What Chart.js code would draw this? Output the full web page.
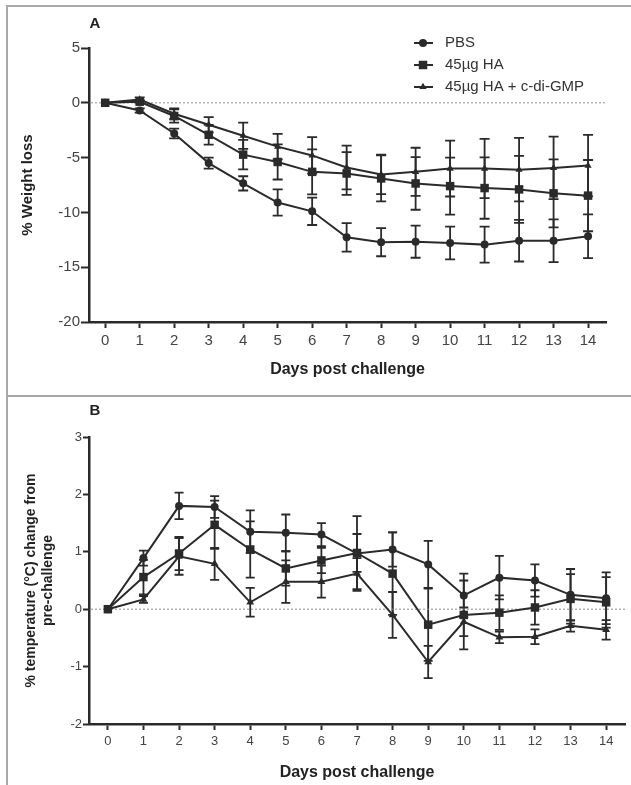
<!DOCTYPE html>
<html>
<head>
<meta charset="utf-8">
<script src="https://cdn.jsdelivr.net/npm/chart.js@4.4.1/dist/chart.umd.min.js"></script>
<style>
  body { margin: 0; background: #fff; width: 631px; height: 785px; overflow: hidden; position: relative; }
  #boxA { position: absolute; left: 6px; top: 5px; width: 700px; height: 388px; border: 2px solid #a8a8a8; border-right: none; }
  #boxB { position: absolute; left: 6px; top: 395px; width: 700px; height: 400px; border-left: 2px solid #a8a8a8; }
  canvas { position: absolute; left: 0; }
  #chartA { top: 0; }
  #chartB { top: 396px; }
</style>
</head>
<body>
<div id="boxA"></div>
<div id="boxB"></div>
<canvas id="chartA" width="631" height="396"></canvas>
<canvas id="chartB" width="631" height="389"></canvas>
<script>
// days post challenge
var days = [0, 1, 2, 3, 4, 5, 6, 7, 8, 9, 10, 11, 12, 13, 14];
var seriesNames = ["PBS", "45µg HA", "45µg HA + c-di-GMP"];

// panel A: % weight loss (mean, SEM)
var weightPBS = [0, -0.7, -2.8, -5.5, -7.35, -9.1, -9.9, -12.27, -12.72, -12.67, -12.79, -12.94, -12.58, -12.58, -12.18];
var weightPBSsem = [0, 0.2, 0.45, 0.5, 0.65, 1.2, 1.25, 1.3, 1.28, 1.47, 1.5, 1.65, 1.9, 1.95, 2.0];
var weightHA = [0, 0.1, -1.2, -2.92, -4.73, -5.4, -6.3, -6.45, -6.9, -7.36, -7.6, -7.78, -7.9, -8.26, -8.47];
var weightHAsem = [0, 0.15, 0.6, 0.9, 1.35, 1.6, 2.05, 1.95, 2.1, 2.4, 2.6, 2.8, 3.05, 3.1, 3.25];
var weightCdG = [0, 0.3, -1.0, -2.0, -3.0, -4.0, -4.8, -5.9, -6.54, -6.3, -6.0, -6.0, -6.1, -5.94, -5.73];
var weightCdGsem = [0, 0.2, 0.5, 0.7, 1.2, 1.17, 1.67, 2.0, 1.8, 2.2, 2.55, 2.7, 2.9, 2.85, 2.8];
var yTicksA = [-20, -15, -10, -5, 0, 5];

// panel B: % temperature change (mean, SEM)
var tempPBS = [0, 0.89, 1.80, 1.78, 1.35, 1.33, 1.30, 0.97, 1.04, 0.78, 0.24, 0.55, 0.50, 0.25, 0.19];
var tempPBSsem = [0, 0.13, 0.23, 0.19, 0.37, 0.32, 0.2, 0.65, 0.3, 0.41, 0.38, 0.38, 0.28, 0.45, 0.45];
var tempHA = [0, 0.56, 0.97, 1.47, 1.04, 0.71, 0.85, 0.98, 0.62, -0.27, -0.10, -0.06, 0.03, 0.18, 0.12];
var tempHAsem = [0, 0.3, 0.29, 0.42, 0.49, 0.3, 0.22, 0.33, 0.72, 0.63, 0.6, 0.3, 0.3, 0.43, 0.44];
var tempCdG = [0, 0.17, 0.92, 0.79, 0.12, 0.48, 0.48, 0.62, -0.10, -0.92, -0.22, -0.49, -0.48, -0.29, -0.36];
var tempCdGsem = [0, 0.06, 0.32, 0.28, 0.25, 0.37, 0.28, 0.27, 0.4, 0.28, 0.25, 0.1, 0.13, 0.1, 0.17];
var yTicksB = [-2, -1, 0, 1, 2, 3];

var ink = "#2a2a2a";
var FONT = "'Liberation Sans', Arial, sans-serif";

function pts(values) {
  return values.map(function (v, i) { return { x: days[i], y: v }; });
}

function dataset(name, values, sem, style, radius) {
  return {
    label: name,
    data: pts(values),
    sem: sem,
    borderColor: ink,
    backgroundColor: ink,
    borderWidth: 2,
    pointStyle: style,
    pointRadius: radius,
    pointBorderWidth: 0,
    pointBackgroundColor: ink,
    tension: 0
  };
}

// error bars drawn through the scales
var errorBars = {
  id: "errorBars",
  beforeDatasetsDraw: function (chart, args, opts) {
    var ctx = chart.ctx, xs = chart.scales.x, ys = chart.scales.y;
    ctx.save();
    ctx.strokeStyle = ink;
    ctx.lineWidth = 1.8;
    chart.data.datasets.forEach(function (ds) {
      ds.data.forEach(function (p, i) {
        var s = ds.sem[i];
        if (!s) return;
        var px = xs.getPixelForValue(p.x);
        var top = ys.getPixelForValue(p.y + s);
        var bot = ys.getPixelForValue(p.y - s);
        ctx.beginPath();
        ctx.moveTo(px, top); ctx.lineTo(px, bot);
        ctx.moveTo(px - opts.cap, top); ctx.lineTo(px + opts.cap, top);
        ctx.moveTo(px - opts.cap, bot); ctx.lineTo(px + opts.cap, bot);
        ctx.stroke();
      });
    });
    ctx.restore();
  }
};

// dotted baseline at 0 and panel letter
var extras = {
  id: "extras",
  beforeDatasetsDraw: function (chart, args, opts) {
    var ctx = chart.ctx, ys = chart.scales.y, area = chart.chartArea;
    var y0 = ys.getPixelForValue(0);
    ctx.save();
    ctx.strokeStyle = opts.zeroColor;
    ctx.lineWidth = opts.zeroWidth;
    ctx.setLineDash([2, 2]);
    ctx.beginPath();
    ctx.moveTo(area.left + 2, y0);
    ctx.lineTo(area.right, y0);
    ctx.stroke();
    ctx.restore();
  },
  afterDraw: function (chart, args, opts) {
    var ctx = chart.ctx;
    ctx.save();
    ctx.fillStyle = "#222";
    ctx.font = "bold 15px " + FONT;
    ctx.textAlign = "center";
    ctx.textBaseline = "middle";
    ctx.fillText(opts.letter, opts.letterX, opts.letterY);
    if (opts.legend) {
      var L = opts.legend;
      chart.data.datasets.forEach(function (ds, i) {
        var y = L.y + i * L.row;
        ctx.strokeStyle = ink;
        ctx.lineWidth = 2;
        ctx.beginPath();
        ctx.moveTo(L.x - 9, y); ctx.lineTo(L.x + 10, y);
        ctx.stroke();
        ctx.fillStyle = ink;
        Chart.helpers.drawPoint(ctx, { pointStyle: ds.pointStyle, radius: ds.pointRadius, borderWidth: 0, rotation: 0 }, L.x, y);
        ctx.fillStyle = "#333";
        ctx.font = "15px " + FONT;
        ctx.textAlign = "left";
        ctx.fillText(ds.label, L.textX, y);
      });
    }
    ctx.restore();
  }
};

function axisCfg(o) {
  return {
    x: {
      type: "linear",
      min: o.xmin, max: o.xmax,
      afterBuildTicks: function (s) { s.ticks = days.map(function (d) { return { value: d }; }); },
      afterFit: function (s) { s.height = o.xHeight; },
      border: { display: true, color: ink, width: 2.5 },
      grid: { drawOnChartArea: false, drawTicks: true, tickLength: 6, tickWidth: 2, tickColor: ink, color: ink },
      ticks: { color: "#444", font: { family: FONT, size: o.tickSize }, padding: o.xPad, maxRotation: 0, autoSkip: false },
      title: { display: true, text: "Days post challenge", color: "#222", font: { family: FONT, size: 16, weight: "bold" }, padding: { top: 0, bottom: o.xTitlePad } }
    },
    y: {
      min: o.ymin, max: o.ymax,
      afterBuildTicks: function (s) { s.ticks = o.yTicks.map(function (v) { return { value: v }; }); },
      afterFit: function (s) { s.width = 89; },
      border: { display: true, color: ink, width: 2.5 },
      grid: { drawOnChartArea: false, drawTicks: true, tickLength: o.yTickLen, tickWidth: 2, tickColor: ink, color: ink },
      ticks: { color: "#444", font: { family: FONT, size: o.tickSize }, padding: 1 },
      title: { display: true, text: o.yTitle, color: "#222", font: { family: FONT, size: o.yTitleSize, weight: "bold" }, padding: { top: o.yTitlePad, bottom: 0 } }
    }
  };
}

new Chart(document.getElementById("chartA"), {
  type: "line",
  data: {
    datasets: [
      dataset(seriesNames[0], weightPBS, weightPBSsem, "circle", 4),
      dataset(seriesNames[1], weightHA, weightHAsem, "rect", 6),
      dataset(seriesNames[2], weightCdG, weightCdGsem, "triangle", 4.2)
    ]
  },
  options: {
    responsive: false,
    animation: false,
    devicePixelRatio: 1,
    layout: { padding: { left: 0, top: 48, right: 25, bottom: 0 } },
    scales: axisCfg({
      xmin: -0.47, xmax: 14.52, xHeight: 74, tickSize: 15, xPad: 4, xTitlePad: 16.4,
      ymin: -20, ymax: 5, yTicks: yTicksA, yTickLen: 8,
      yTitle: "% Weight loss", yTitleSize: 15, yTitlePad: 19
    }),
    plugins: {
      legend: { display: false },
      tooltip: { enabled: false },
      errorBars: { cap: 5 },
      extras: {
        zeroColor: "#b5b5b5", zeroWidth: 1.5, letter: "A", letterX: 95, letterY: 24,
        legend: { x: 423, y: 43, row: 22, textX: 445 }
      }
    }
  },
  plugins: [errorBars, extras]
});

new Chart(document.getElementById("chartB"), {
  type: "line",
  data: {
    datasets: [
      dataset(seriesNames[0], tempPBS, tempPBSsem, "circle", 4),
      dataset(seriesNames[1], tempHA, tempHAsem, "rect", 6),
      dataset(seriesNames[2], tempCdG, tempCdGsem, "triangle", 4.5)
    ]
  },
  options: {
    responsive: false,
    animation: false,
    devicePixelRatio: 1,
    layout: { padding: { left: 0, top: 41, right: 0, bottom: 0 } },
    scales: axisCfg({
      xmin: -0.53, xmax: 14.53, xHeight: 61, tickSize: 13, xPad: 4, xTitlePad: 2.4,
      ymin: -2, ymax: 3, yTicks: yTicksB, yTickLen: 6,
      yTitle: ["% temperature (°C) change from", "pre-challenge"], yTitleSize: 14, yTitlePad: 22.6
    }),
    plugins: {
      legend: { display: false },
      tooltip: { enabled: false },
      errorBars: { cap: 4.5 },
      extras: { zeroColor: "#8a8a8a", zeroWidth: 1, letter: "B", letterX: 95, letterY: 15 }
    }
  },
  plugins: [errorBars, extras]
});
</script>
</body>
</html>
